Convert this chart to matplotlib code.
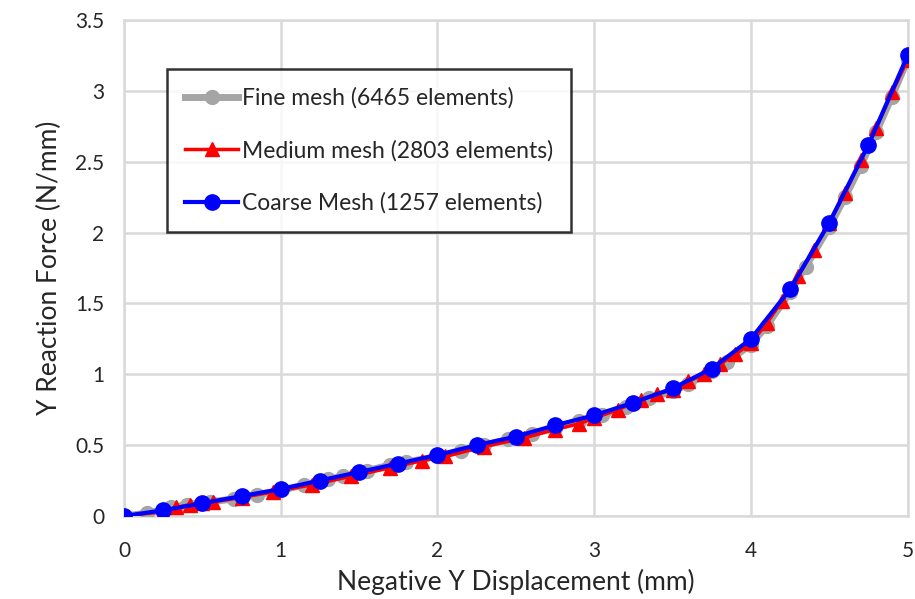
import matplotlib
matplotlib.use("Agg")
import matplotlib.pyplot as plt

plt.rcParams['font.family'] = ['Lato', 'DejaVu Sans']

# Coarse mesh
coarse_x = [0, 0.25, 0.5, 0.75, 1.0, 1.25, 1.5, 1.75, 2.0, 2.25, 2.5, 2.75, 3.0,
            3.25, 3.5, 3.75, 4.0, 4.25, 4.5, 4.75, 5.0]
coarse_y = [0, 0.04, 0.09, 0.14, 0.19, 0.25, 0.31, 0.37, 0.43, 0.50, 0.56, 0.64, 0.71,
            0.80, 0.90, 1.04, 1.25, 1.60, 2.07, 2.62, 3.25]

# Medium mesh
medium_x = [0, 0.25, 0.33, 0.42, 0.5, 0.57, 0.75, 0.95, 1.2, 1.45, 1.7, 1.9, 2.05, 2.3,
            2.55, 2.75, 2.9, 3.0, 3.15, 3.3, 3.4, 3.5, 3.6, 3.7, 3.8, 3.9, 4.0, 4.1,
            4.2, 4.3, 4.4, 4.5, 4.6, 4.7, 4.8, 4.9, 5.0]
medium_y = [0, 0.03, 0.06, 0.08, 0.09, 0.10, 0.13, 0.17, 0.22, 0.28, 0.34, 0.39, 0.42, 0.49,
            0.55, 0.61, 0.65, 0.69, 0.75, 0.82, 0.86, 0.89, 0.95, 1.00, 1.07, 1.14, 1.22, 1.36,
            1.52, 1.69, 1.88, 2.07, 2.28, 2.51, 2.74, 2.99, 3.22]

# Fine mesh
fine_x = [0, 0.15, 0.3, 0.4, 0.55, 0.7, 0.85, 1.0, 1.15, 1.3, 1.4, 1.55, 1.7, 1.8, 2.0,
          2.15, 2.3, 2.45, 2.6, 2.75, 2.9, 3.05, 3.2, 3.35, 3.5, 3.6, 3.75, 3.85, 4.0,
          4.1, 4.25, 4.35, 4.5, 4.6, 4.7, 4.8, 4.9, 5.0]
fine_y = [0, 0.02, 0.06, 0.08, 0.10, 0.12, 0.15, 0.18, 0.22, 0.26, 0.28, 0.32, 0.36, 0.38, 0.42,
          0.46, 0.50, 0.54, 0.58, 0.62, 0.67, 0.71, 0.77, 0.83, 0.88, 0.93, 1.02, 1.09, 1.21,
          1.34, 1.58, 1.76, 2.04, 2.25, 2.47, 2.71, 2.96, 3.22]

labels = ["Fine mesh (6465 elements)", "Medium mesh (2803 elements)", "Coarse Mesh (1257 elements)"]
x_ticks = [0, 1, 2, 3, 4, 5]
y_ticks = [0, 0.5, 1, 1.5, 2, 2.5, 3, 3.5]
y_tick_labels = ["0", "0.5", "1", "1.5", "2", "2.5", "3", "3.5"]

fig = plt.figure(figsize=(9.15, 5.99), dpi=100)
ax = fig.add_axes([0.1355, 0.1386, 0.8565, 0.828])

ax.plot(fine_x, fine_y, color='#a5a5a5', lw=5, marker='o', ms=10, label=labels[0], zorder=3)
ax.plot(medium_x, medium_y, color='#ff0000', lw=2.5, marker='^', ms=10, label=labels[1], zorder=4)
ax.plot(coarse_x, coarse_y, color='#0000ff', lw=3, marker='o', ms=11, label=labels[2], zorder=5)

ax.set_xlim(0, 5)
ax.set_ylim(0, 3.5)
ax.set_xticks(x_ticks)
ax.set_yticks(y_ticks)
ax.set_yticklabels(y_tick_labels)
ax.tick_params(length=0, labelsize=15, colors='#262626')
ax.tick_params(axis='x', pad=18)
ax.tick_params(axis='y', pad=14)
ax.grid(True, color='#d9d9d9', lw=1.8)
ax.set_axisbelow(True)
for s in ax.spines.values():
    s.set_color('#d9d9d9')
    s.set_linewidth(1.8)

ax.set_xlabel("Negative Y Displacement (mm)", fontsize=19, color='#262626', labelpad=6)
ax.set_ylabel("Y Reaction Force (N/mm)", fontsize=19, color='#262626', labelpad=10)

for lbl in ax.get_xticklabels() + ax.get_yticklabels():
    lbl.set_clip_on(False)

leg = ax.legend(loc='upper left', bbox_to_anchor=(0.055, 0.901), borderaxespad=0,
                fontsize=16.5, frameon=True, fancybox=False, edgecolor='black',
                handlelength=2.3, handletextpad=0.15, labelspacing=1.35,
                borderpad=0.8)
leg.get_frame().set_linewidth(1.8)
for t in leg.get_texts():
    t.set_color('#262626')

fig.savefig("out.png", dpi=100)
